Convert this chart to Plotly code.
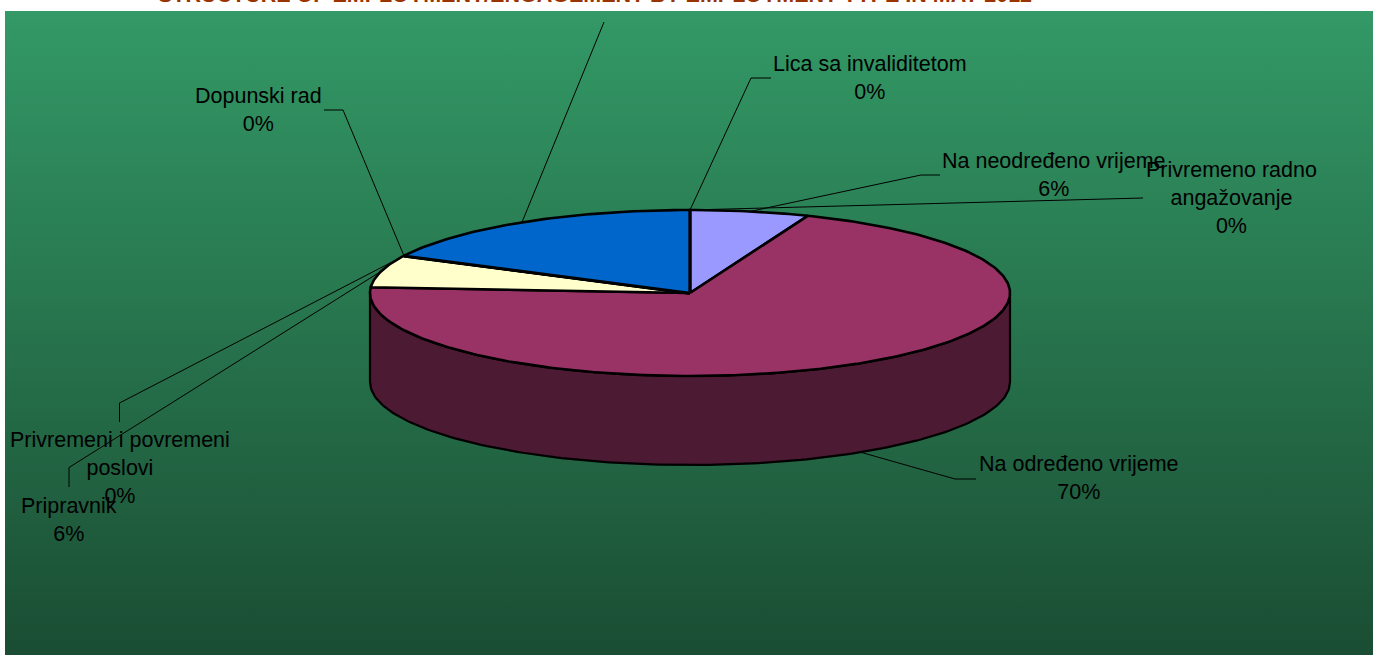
import math
import plotly.graph_objects as go

# ---- data -----------------------------------------------------------------
categories = ["Na neodređeno vrijeme", "Na određeno vrijeme", "Pripravnik",
              "Privremeni i povremeni poslovi", "Dopunski rad", "Ostalo",
              "Lica sa invaliditetom", "Privremeno radno angažovanje"]
values = [6.0, 70.1, 6.3, 0, 0, 17.6, 0, 0]
slice_colors = ["#9999FF", "#993366", "#FFFFCC", "#660066", "#FF8080", "#0066CC", "#CCCCFF", "#000080"]
title_text = "STRUCTURE OF EMPLOYMENT/ENGAGEMENT BY EMPLOYMENT TYPE IN MAY 2012"

# ---- layout constants (pixels of the 1373x655 page) ------------------------
W, H = 1373, 655
CX, CY, RX, RY, DEPTH = 690, 293, 320, 83, 89
FONT = "Liberation Sans, Arial, sans-serif"


def pt(frac, drop=0):
    t = 2 * math.pi * frac
    return CX + RX * math.sin(t), CY - RY * math.cos(t) + drop


fig = go.Figure()

# background gradient
fig.add_trace(go.Scatter(x=[5, W, W, 5, 5], y=[11, 11, H, H, 11], mode="lines", fill="toself",
                         line=dict(width=0), hoverinfo="skip", showlegend=False,
                         fillgradient=dict(type="vertical",
                                           colorscale=[[0, "#1A4D33"], [1, "#339966"]])))

total = sum(values)
cum = 0
spans = {}
for c, v in zip(categories, values):
    spans[c] = (cum / total, (cum + v) / total)
    cum += v

# side wall of the slice that crosses the front
for c, col in zip(categories, slice_colors):
    a, b = spans[c]
    lo2, hi2 = max(a, 0.25), min(b, 0.75)
    if hi2 <= lo2:
        continue
    n = 160
    fr = [lo2 + (hi2 - lo2) * i / n for i in range(n + 1)]
    top = [pt(f) for f in fr]
    bot = [pt(f, DEPTH) for f in reversed(fr)]
    pts = top + bot + [top[0]]
    fig.add_trace(go.Scatter(x=[p[0] for p in pts], y=[p[1] for p in pts], mode="lines", fill="toself",
                             fillcolor="#4D1A33", line=dict(color="black", width=2.2),
                             hoverinfo="skip", showlegend=False))

# top faces
for c, col in zip(categories, slice_colors):
    a, b = spans[c]
    n = max(2, int((b - a) * 400))
    pts = [(CX, CY)] + [pt(a + (b - a) * i / n) for i in range(n + 1)] + [(CX, CY)]
    lw = 3.4 if (b == a and b < 1) else 2.6
    fig.add_trace(go.Scatter(x=[p[0] for p in pts], y=[p[1] for p in pts], mode="lines", fill="toself",
                             fillcolor=col, line=dict(color="black", width=lw),
                             name=c, hoverinfo="name", showlegend=False))

# leader lines: start on the rim at the slice's middle, then to the label
leaders = {
    "Na neodređeno vrijeme": ((921, 175), (940, 175), 0),
    "Na određeno vrijeme": ((955, 479), (976, 479), DEPTH),
    "Pripravnik": ((69, 467.5), (69, 487), 0),
    "Privremeni i povremeni poslovi": ((119.5, 403), (119.5, 422), 0),
    "Dopunski rad": ((343, 110), (324, 110), 0),
    "Ostalo": ((604, 22), (604, 22), 0),
    "Lica sa invaliditetom": ((751, 78), (771, 78), 0),
    "Privremeno radno angažovanje": ((1120, 198.6), (1143, 198), 0),
}
for c, (elbow, end, drop) in leaders.items():
    a, b = spans[c]
    s = pt((a + b) / 2, drop)
    fig.add_trace(go.Scatter(x=[s[0], elbow[0], end[0]], y=[s[1], elbow[1], end[1]], mode="lines",
                             line=dict(color="black", width=1), hoverinfo="skip", showlegend=False))

labels = {
    "Lica sa invaliditetom": (870, 64, "Lica sa invaliditetom"),
    "Dopunski rad": (258, 96, "Dopunski rad"),
    "Na neodređeno vrijeme": (1054, 161, "Na neodređeno vrijeme"),
    "Privremeno radno angažovanje": (1231, 170, "Privremeno radno<br>angažovanje"),
    "Na određeno vrijeme": (1078.5, 464, "Na određeno vrijeme"),
    "Privremeni i povremeni poslovi": (119.5, 440, "Privremeni i povremeni<br>poslovi"),
    "Pripravnik": (69, 506, "Pripravnik"),
}
annotations = []
for c, (x, y, txt) in labels.items():
    v = values[categories.index(c)]
    annotations.append(dict(x=x, y=y - 14, xref="x", yref="y", xanchor="center", yanchor="top",
                            text=f"{txt}<br>{round(v)}%", showarrow=False,
                            font=dict(family=FONT, size=21.5, color="black"), align="center"))

annotations.append(dict(x=595, y=9, xref="x", yref="y", xanchor="center", yanchor="bottom",
                        text=f"<b>{title_text}</b>", showarrow=False,
                        font=dict(family=FONT, size=21.5, color="#993300")))

fig.update_layout(
    width=W, height=H, margin=dict(l=0, r=0, t=0, b=0), paper_bgcolor="white", plot_bgcolor="white",
    xaxis=dict(range=[0, W], visible=False, fixedrange=True),
    yaxis=dict(range=[H, 0], visible=False, fixedrange=True),
    annotations=annotations, showlegend=False,
)
fig.write_html("out.html", config=dict(displayModeBar=False),
               post_script="document.body.style.margin='0';document.body.style.overflow='hidden';")
